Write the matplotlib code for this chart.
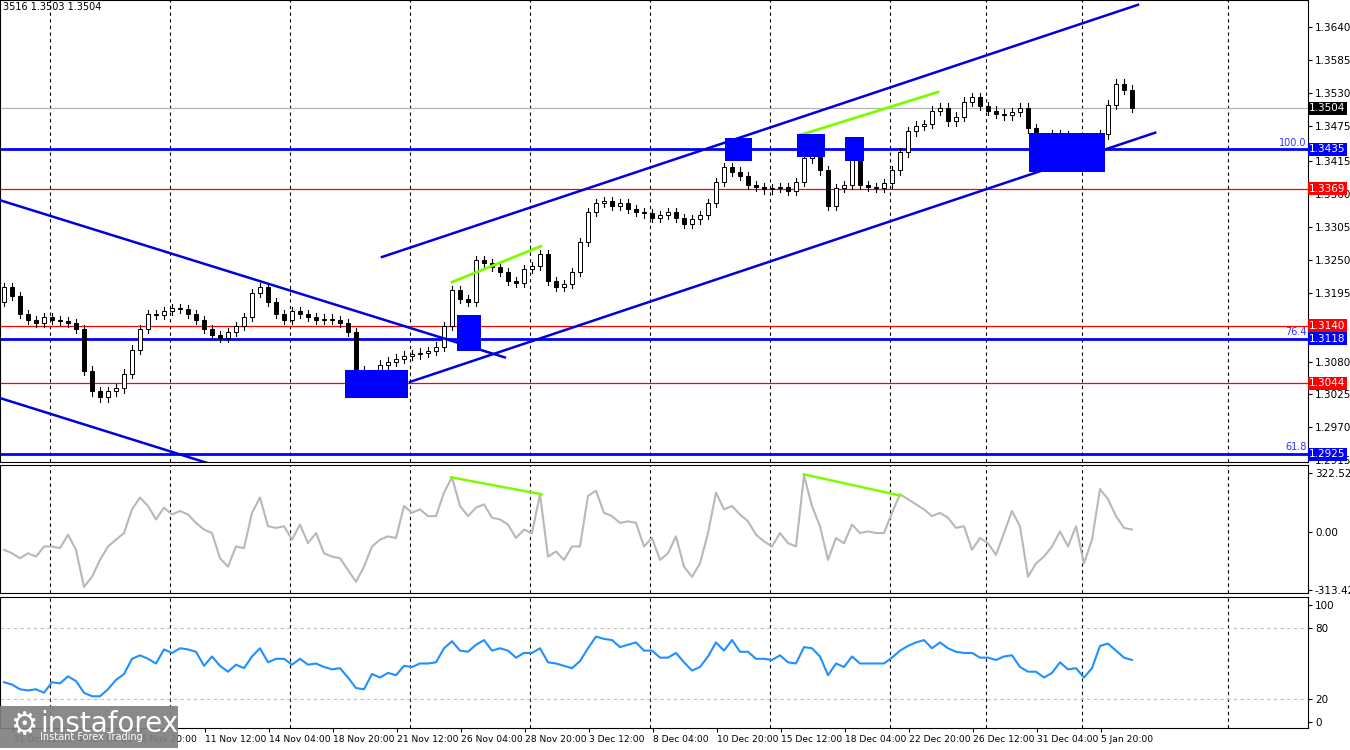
import matplotlib
matplotlib.use("Agg")
import matplotlib.pyplot as plt
from matplotlib.patches import Rectangle
import numpy as np

closes = [1.3205,1.3190,1.3160,1.3150,1.3145,1.3155,1.3150,1.3148,1.3145,1.3135,
1.3065,1.3030,1.3020,1.3030,1.3035,1.3060,1.3100,1.3135,1.3160,1.3158,
1.3165,1.3170,1.3168,1.3160,1.3150,1.3135,1.3125,1.3120,1.3130,1.3140,
1.3155,1.3195,1.3205,1.3180,1.3160,1.3150,1.3165,1.3160,1.3155,1.3150,
1.3152,1.3150,1.3145,1.3130,1.3065,1.3050,1.3052,1.3075,1.3080,1.3085,
1.3090,1.3092,1.3095,1.3098,1.3105,1.3140,1.3200,1.3185,1.3180,1.3250,
1.3245,1.3238,1.3230,1.3215,1.3212,1.3235,1.3240,1.3260,1.3215,1.3205,
1.3210,1.3230,1.3280,1.3330,1.3345,1.3348,1.3340,1.3345,1.3335,1.3330,
1.3328,1.3320,1.3325,1.3330,1.3320,1.3310,1.3318,1.3325,1.3345,1.3380,
1.3405,1.3398,1.3390,1.3375,1.3372,1.3368,1.3370,1.3372,1.3365,1.3380,
1.3420,1.3425,1.3400,1.3340,1.3370,1.3375,1.3420,1.3375,1.3372,1.3370,
1.3378,1.3400,1.3430,1.3465,1.3475,1.3478,1.3500,1.3505,1.3482,1.3490,
1.3515,1.3522,1.3508,1.3500,1.3495,1.3492,1.3498,1.3505,1.3470,1.3450,
1.3455,1.3460,1.3458,1.3450,1.3445,1.3430,1.3450,1.3460,1.3510,1.3545,
1.3535,1.3504]
first_open = 1.3180

cci = [-95,-114,-141,-114,-132,-77,-77,-86,-13,-95,
-297,-242,-150,-77,-40,-4,125,189,143,70,
134,97,116,97,51,15,-4,-141,-187,-77,
-86,106,189,33,24,33,-40,42,-59,-4,
-114,-132,-141,-205,-269,-187,-77,-40,-22,-31,
143,106,125,88,88,216,299,143,88,134,
152,79,70,42,-31,15,-4,207,-132,-104,
-150,-77,-77,198,226,106,88,51,60,51,
-77,-31,-150,-114,-22,-187,-242,-169,-4,216,
125,143,97,60,-13,-49,-77,-4,-59,-77,
308,143,33,-150,-31,-59,42,-4,5,-4,
-4,106,207,180,152,125,88,106,79,24,
33,-95,-31,-59,-123,-4,116,33,-242,-169,
-132,-77,5,-77,33,-169,-40,235,180,88,
24,15]

rsi = [34,32,28,27,28,25,34,33,39,35,
25,22,22,28,36,41,54,57,54,50,
62,59,63,62,60,48,56,48,43,49,
46,56,63,51,54,54,49,54,49,50,
47,45,46,38,29,28,41,38,42,40,
48,47,50,50,51,63,69,61,60,66,
70,61,63,61,55,59,59,63,51,50,
48,46,52,63,73,71,70,64,66,68,
61,61,55,55,59,51,44,47,56,68,
61,70,60,60,54,54,53,57,51,50,
64,63,56,40,50,47,56,50,50,50,
50,55,61,65,68,70,63,68,63,60,
59,59,55,55,53,56,57,47,43,43,
38,42,51,45,46,38,46,65,67,61,
55,53]

tick_labels = ["31 Oct 12:00","4 Nov 04:00","6 Nov 20:00","11 Nov 12:00","14 Nov 04:00",
"18 Nov 20:00","21 Nov 12:00","26 Nov 04:00","28 Nov 20:00","3 Dec 12:00","8 Dec 04:00",
"10 Dec 20:00","15 Dec 12:00","18 Dec 04:00","22 Dec 20:00","26 Dec 12:00","31 Dec 04:00","5 Jan 20:00"]
tick_pos = [1.1 + 8*i for i in range(len(tick_labels))]
vgrid = [5.75, 20.75, 35.75, 50.75, 65.75, 80.75, 95.75, 110.75, 122.75, 134.75, 153.0]

price_ticks = [1.3640,1.3585,1.3530,1.3475,1.3415,1.3360,1.3305,1.3250,1.3195,1.3080,1.3025,1.2970,1.2915]
blue_levels = [(1.3435,"100.0"),(1.3118,"76.4"),(1.2925,"61.8")]
red_levels = [1.3369,1.3140,1.3044]
last_price = 1.3504

trend_lines = [((47.25,1.3255),(141.75,1.3677)),((50.75,1.3046),(143.9,1.3463)),
               ((-0.5,1.3350),(62.6,1.3087)),((-0.5,1.3019),(25.5,1.2910))]
green_lines = [((56.0,1.3213),(67.1,1.3273)),((99.5,1.3459),(116.75,1.3531))]
boxes = [(42.6,50.5,1.3019,1.3066),(56.6,59.6,1.3097,1.3158),(90.1,93.5,1.3416,1.3454),
         (99.1,102.6,1.3422,1.3461),(105.1,107.5,1.3416,1.3456),(128.1,137.6,1.3397,1.3462)]
cci_green = ((55.9,299),(67.2,207))
cci_green2 = ((100.0,315),(112.0,200))

W, H = 1350, 750
fig = plt.figure(figsize=(13.5, 7.5), dpi=100)
fig.patch.set_facecolor("white")
R = 1308/W
ax = fig.add_axes([0, 1-462/H, R, 462/H])
ax2 = fig.add_axes([0, 1-593/H, R, 128/H])
ax3 = fig.add_axes([0, 1-728/H, R, 131/H])
XL = (-0.5, 163.0)
fs = 7.5
for a in (ax, ax2, ax3):
    a.set_xlim(*XL)
    a.yaxis.tick_right()
    a.tick_params(axis='y', labelsize=fs, length=3, pad=2)
    a.tick_params(axis='x', length=0)
    a.set_xticks([])
    for s in a.spines.values():
        s.set_color("black"); s.set_linewidth(0.8)
    for g in vgrid:
        a.axvline(g, color="black", ls=(0,(3,3)), lw=0.8, zorder=0)

# main
ax.set_ylim(1.2912, 1.3685)
ax.set_yticks(price_ticks)
ax.set_yticklabels([f"{p:.4f}" for p in price_ticks])
opens = [first_open] + closes[:-1]
wick = 0.0007
for i, (o, c) in enumerate(zip(opens, closes)):
    hi = max(o, c) + wick; lo = min(o, c) - wick
    ax.plot([i, i], [lo, hi], color="black", lw=0.8, zorder=3)
    up = c >= o
    ax.add_patch(Rectangle((i-0.22, min(o, c)), 0.44, max(abs(c-o), 0.00012),
                 facecolor="white" if up else "black", edgecolor="black", lw=0.7, zorder=4))
for lv, lab in blue_levels:
    ax.axhline(lv, color="#0000ff", lw=2, zorder=2)
    ax.text(162.8, lv+0.0003, lab, color="#3333ff", fontsize=7, ha="right", va="bottom")
for lv in red_levels:
    ax.axhline(lv, color="red", lw=0.9, zorder=2)
ax.axhline(last_price, color="#b0b0b0", lw=0.8, zorder=1)
for (x0,y0),(x1,y1) in trend_lines:
    ax.plot([x0,x1],[y0,y1], color="#0000dd", lw=1.8, zorder=5)
for (x0,y0),(x1,y1) in green_lines:
    ax.plot([x0,x1],[y0,y1], color="#7cfc00", lw=2, zorder=5)
for x0,x1,y0,y1 in boxes:
    ax.add_patch(Rectangle((x0,y0), x1-x0, y1-y0, facecolor="#0000ff", edgecolor="none", zorder=6))
def tag(a, y, txt, fc):
    a.text(1.001, y, txt, transform=a.get_yaxis_transform(), fontsize=fs, color="white",
           va="center", ha="left", bbox=dict(boxstyle="square,pad=0.15", fc=fc, ec="none"), zorder=10, clip_on=False)
tag(ax, last_price, f"{last_price:.4f}", "black")
for lv, lab in blue_levels:
    tag(ax, lv, f"{lv:.4f}", "#0000ff")
for lv in red_levels:
    tag(ax, lv, f"{lv:.4f}", "red")
ax.text(0.002, 0.995, "3516 1.3503 1.3504", transform=ax.transAxes, fontsize=7, va="top", ha="left")

# CCI
xs = np.arange(len(cci))
ax2.set_ylim(-330, 366)
ax2.plot(xs, cci, color="#b8b8b8", lw=1.5)
for (x0,y0),(x1,y1) in (cci_green, cci_green2):
    ax2.plot([x0,x1],[y0,y1], color="#7cfc00", lw=1.8)
ax2.set_yticks([322.5258, 0, -313.4224])
ax2.set_yticklabels(["322.5258","0.00","-313.4224"])

# RSI
ax3.set_ylim(-5.1, 106.8)
ax3.plot(np.arange(len(rsi)), rsi, color="#1e90ff", lw=1.5)
for lv in (80, 20):
    ax3.axhline(lv, color="#c0c0c0", ls=(0,(3,3)), lw=0.8)
ax3.set_yticks([100, 80, 20, 0])
ax3.set_xticks(tick_pos)
ax3.set_xticklabels(tick_labels, fontsize=6.6, ha="left")
ax3.tick_params(axis='x', length=3, pad=2)

# logo
fig.patches.append(Rectangle((0, 2/H), 178/W, 42/H, transform=fig.transFigure, facecolor="#808080", alpha=0.92, zorder=20))
fig.text(40/W, 26/H, "instaforex", fontsize=20, color="white", zorder=21, va="center", ha="left")
fig.text(40/W, 8/H, "Instant Forex Trading", fontsize=7, color="white", zorder=21, va="bottom", ha="left")
fig.text(10/W, 24/H, "⚙", fontsize=22, color="white", zorder=21, va="center", ha="left")

fig.savefig("out.png", dpi=100)
